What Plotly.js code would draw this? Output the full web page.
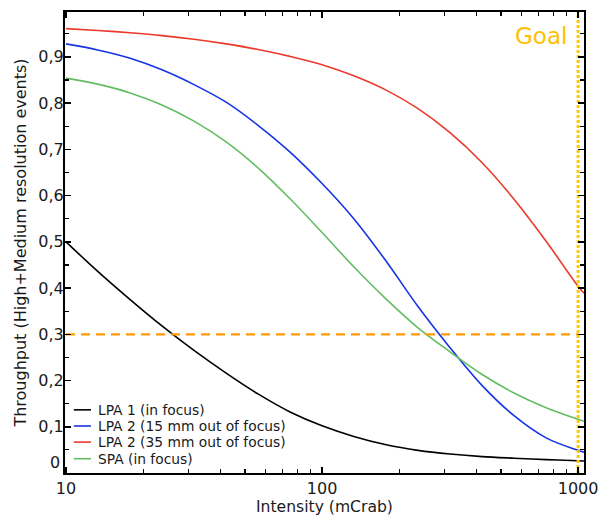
<!DOCTYPE html>
<html>
<head>
<meta charset="utf-8">
<script src="https://cdn.plot.ly/plotly-3.0.1.min.js"></script>
<style>html,body{margin:0;padding:0;background:#fff;}#chart{width:602px;height:516px;}</style>
</head>
<body>
<div id="chart"></div>
<script>
// Intensity grid (mCrab)
const intensity = [10, 13.3, 17.8, 23.7, 31.6, 42.2, 56.2, 75, 100, 133, 178, 237, 316, 422, 562, 750, 1000, 1054];

// Throughput (High+Medium resolution events)
const lpa1InFocus = [0.500, 0.436, 0.375, 0.318, 0.265, 0.216, 0.171, 0.132, 0.102, 0.079, 0.061, 0.049, 0.041, 0.0355, 0.032, 0.029, 0.0265, 0.026];
const lpa2Out15mm = [0.928, 0.915, 0.897, 0.872, 0.840, 0.802, 0.752, 0.694, 0.626, 0.550, 0.458, 0.360, 0.271, 0.189, 0.124, 0.076, 0.049, 0.045];
const lpa2Out35mm = [0.961, 0.957, 0.952, 0.946, 0.938, 0.928, 0.916, 0.901, 0.883, 0.859, 0.828, 0.788, 0.736, 0.671, 0.592, 0.501, 0.404, 0.389];
const spaInFocus  = [0.854, 0.841, 0.822, 0.796, 0.761, 0.716, 0.660, 0.593, 0.520, 0.446, 0.376, 0.314, 0.262, 0.213, 0.173, 0.141, 0.116, 0.112];

const seriesNames  = ["LPA 1 (in focus)", "LPA 2 (15 mm out of focus)", "LPA 2 (35 mm out of focus)", "SPA (in focus)"];
const seriesColors = ["#000000", "#1634e4", "#ea3a2b", "#62bd62"];

// Reference levels
const targetThroughput = 0.3;
const goalIntensity = 1000;
const thresholdX = [10, 1000];
const goalY = [0, 0.997];

const yTickVals = [0.1, 0.2, 0.3, 0.4, 0.5, 0.6, 0.7, 0.8, 0.9];
const yTickText = ["0,1", "0,2", "0,3", "0,4", "0,5", "0,6", "0,7", "0,8", "0,9"];
const xTickVals = [10, 100, 1000];
const xTickText = ["10", "100", "1000"];

const FONT = "DejaVu Sans, sans-serif";
const TXT = "#1a1a1a";

const seriesData = [lpa1InFocus, lpa2Out15mm, lpa2Out35mm, spaInFocus];
const traces = seriesData.map((ys, i) => ({
  type: "scatter", mode: "lines",
  x: intensity, y: ys, name: seriesNames[i], showlegend: false,
  line: {color: seriesColors[i], width: 1.6, shape: "spline", smoothing: 1}
}));

traces.push({
  type: "scatter", mode: "lines", x: thresholdX, y: [targetThroughput, targetThroughput],
  showlegend: false, hoverinfo: "skip",
  line: {color: "#ff9a00", width: 2.2, dash: "9px,6px"}
});
traces.push({
  type: "scatter", mode: "lines", x: [goalIntensity, goalIntensity], y: goalY,
  showlegend: false, hoverinfo: "skip",
  line: {color: "#ffc800", width: 3, dash: "3px,2px"}
});

// Manual legend (compact, like the original)
const legendRowsY = [0.137, 0.102, 0.067, 0.031];
const shapes = [];
const annotations = [];
seriesNames.forEach((name, i) => {
  shapes.push({type: "line", xref: "paper", yref: "paper", x0: 0.017, x1: 0.050,
               y0: legendRowsY[i], y1: legendRowsY[i], line: {color: seriesColors[i], width: 1.6}});
  annotations.push({xref: "paper", yref: "paper", x: 0.060, y: legendRowsY[i], text: name,
                    showarrow: false, xanchor: "left", yanchor: "middle",
                    font: {family: FONT, size: 13.8, color: TXT}});
});
annotations.push({
  x: Math.log10(goalIntensity), y: 0.946, xref: "x", yref: "y",
  text: "Goal", showarrow: false, xanchor: "right", yanchor: "middle", xshift: -9,
  font: {family: FONT, size: 23, color: "#ffc000"}
});
// "0" label of the y axis, lifted above the x axis label as in the original
annotations.push({
  x: 0, y: 0, xref: "paper", yref: "y", text: "0", showarrow: false,
  xanchor: "right", yanchor: "middle", xshift: -3, yshift: 11,
  font: {family: FONT, size: 16, color: TXT}
});

const axisCommon = {
  showline: true, linecolor: "#000", linewidth: 2, mirror: "allticks",
  ticks: "inside", ticklen: 6, tickwidth: 1.5, tickcolor: "#000",
  showgrid: false, zeroline: false,
  tickfont: {family: FONT, size: 16, color: TXT}
};

const layout = {
  width: 602, height: 516, autosize: false,
  margin: {l: 65, r: 18, t: 12, b: 43},
  paper_bgcolor: "#fff", plot_bgcolor: "#fff",
  font: {family: FONT, color: TXT},
  separators: ", ",
  showlegend: false,
  xaxis: Object.assign({}, axisCommon, {
    type: "log", range: [0.996, 3.023],
    tickvals: xTickVals, ticktext: xTickText,
    minor: {ticks: "inside", ticklen: 4, tickwidth: 1.2, tickcolor: "#000", dtick: "D1", showgrid: false},
    title: {text: "Intensity (mCrab)", font: {family: FONT, size: 15.6, color: TXT}, standoff: 2}
  }),
  yaxis: Object.assign({}, axisCommon, {
    range: [0, 0.997],
    tickvals: yTickVals, ticktext: yTickText, ticklabelstandoff: -4,
    minor: {ticks: "inside", ticklen: 4, tickwidth: 1.2, tickcolor: "#000", dtick: 0.05, showgrid: false},
    title: {text: "Throughput (High+Medium resolution events)", font: {family: FONT, size: 16, color: TXT}, standoff: 8}
  }),
  shapes: shapes,
  annotations: annotations
};

Plotly.newPlot("chart", traces, layout, {displayModeBar: false, staticPlot: true});
</script>
</body>
</html>
